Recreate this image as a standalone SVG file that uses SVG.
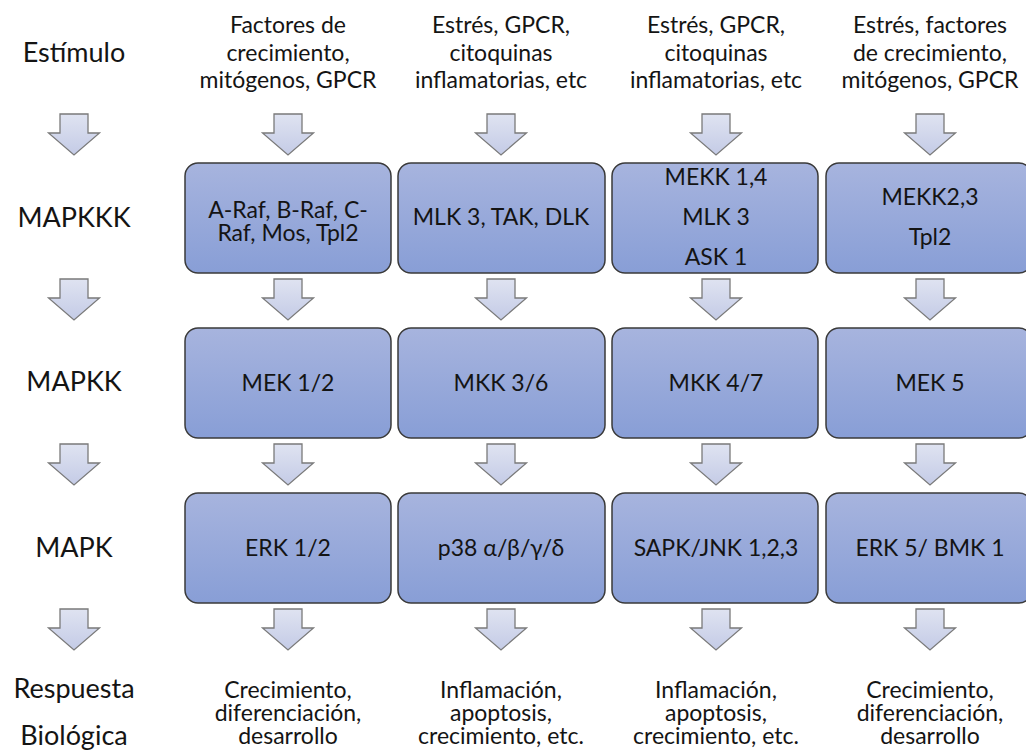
<svg xmlns="http://www.w3.org/2000/svg" width="1026" height="751" viewBox="0 0 1026 751">
<defs>
<linearGradient id="gb" x1="0" y1="0" x2="0" y2="1">
<stop offset="0" stop-color="#a7b4de"/>
<stop offset="1" stop-color="#889ed6"/>
</linearGradient>
<linearGradient id="ga" x1="0" y1="0" x2="0" y2="1">
<stop offset="0" stop-color="#dfe3f1"/>
<stop offset="1" stop-color="#c4cbe6"/>
</linearGradient>
<path id="arr" d="M-14,0 H14 V19 H25.5 L0,41 L-25.5,19 H-14 Z"/>
</defs>
<style>
.box{fill:url(#gb);stroke:#3a3a3a;stroke-width:1.5}
.ar{fill:url(#ga);stroke:#7a7a7a;stroke-width:1.3;stroke-linejoin:miter}
text{font-family:Lato,"Liberation Sans",sans-serif;fill:#141414;text-anchor:middle}
.lb{font-size:27px}
.tx{font-size:23px}
</style>
<rect width="1026" height="751" fill="#ffffff"/>

<g id="labels">
<text class="lb" x="74" y="62">Estímulo</text>
<text class="lb" x="74" y="227">MAPKKK</text>
<text class="lb" x="74" y="391">MAPKK</text>
<text class="lb" x="74" y="557">MAPK</text>
<text class="lb" x="74" y="698">Respuesta</text>
<text class="lb" x="74" y="745">Biológica</text>
</g>

<g id="stimuli">
<text class="tx" x="288" y="33">Factores de</text>
<text class="tx" x="288" y="61">crecimiento,</text>
<text class="tx" x="288" y="88">mitógenos, GPCR</text>
<text class="tx" x="501" y="33">Estrés, GPCR,</text>
<text class="tx" x="501" y="61">citoquinas</text>
<text class="tx" x="501" y="88">inflamatorias, etc</text>
<text class="tx" x="716" y="33">Estrés, GPCR,</text>
<text class="tx" x="716" y="61">citoquinas</text>
<text class="tx" x="716" y="88">inflamatorias, etc</text>
<text class="tx" x="930" y="33">Estrés, factores</text>
<text class="tx" x="930" y="61">de crecimiento,</text>
<text class="tx" x="930" y="88">mitógenos, GPCR</text>
</g>

<g id="connectors">
<use href="#arr" class="ar" x="74" y="114"/>
<use href="#arr" class="ar" x="288" y="114"/>
<use href="#arr" class="ar" x="501" y="114"/>
<use href="#arr" class="ar" x="716" y="114"/>
<use href="#arr" class="ar" x="930" y="114"/>
<use href="#arr" class="ar" x="74" y="279"/>
<use href="#arr" class="ar" x="288" y="279"/>
<use href="#arr" class="ar" x="501" y="279"/>
<use href="#arr" class="ar" x="716" y="279"/>
<use href="#arr" class="ar" x="930" y="279"/>
<use href="#arr" class="ar" x="74" y="444"/>
<use href="#arr" class="ar" x="288" y="444"/>
<use href="#arr" class="ar" x="501" y="444"/>
<use href="#arr" class="ar" x="716" y="444"/>
<use href="#arr" class="ar" x="930" y="444"/>
<use href="#arr" class="ar" x="74" y="609"/>
<use href="#arr" class="ar" x="288" y="609"/>
<use href="#arr" class="ar" x="501" y="609"/>
<use href="#arr" class="ar" x="716" y="609"/>
<use href="#arr" class="ar" x="930" y="609"/>
</g>

<g id="raf">
<rect class="box" x="185" y="163" width="206" height="110" rx="13"/>
<text class="tx" x="288" y="218">A-Raf, B-Raf, C-</text>
<text class="tx" x="288" y="241">Raf, Mos, Tpl2</text>
</g>
<g id="mlk">
<rect class="box" x="398" y="163" width="207" height="110" rx="13"/>
<text class="tx" x="501" y="225">MLK 3, TAK, DLK</text>
</g>
<g id="mekk14">
<rect class="box" x="612" y="163" width="206" height="110" rx="13"/>
<text class="tx" x="716" y="185">MEKK 1,4</text>
<text class="tx" x="716" y="225">MLK 3</text>
<text class="tx" x="716" y="265">ASK 1</text>
</g>
<g id="mekk23">
<rect class="box" x="826" y="163" width="206" height="110" rx="13"/>
<text class="tx" x="930" y="205">MEKK2,3</text>
<text class="tx" x="930" y="245">Tpl2</text>
</g>

<g id="mek12">
<rect class="box" x="185" y="328" width="206" height="110" rx="13"/>
<text class="tx" x="288" y="391">MEK 1/2</text>
</g>
<g id="mkk36">
<rect class="box" x="398" y="328" width="207" height="110" rx="13"/>
<text class="tx" x="501" y="391">MKK 3/6</text>
</g>
<g id="mkk47">
<rect class="box" x="612" y="328" width="206" height="110" rx="13"/>
<text class="tx" x="716" y="391">MKK 4/7</text>
</g>
<g id="mek5">
<rect class="box" x="826" y="328" width="206" height="110" rx="13"/>
<text class="tx" x="930" y="391">MEK 5</text>
</g>

<g id="erk12">
<rect class="box" x="185" y="493" width="206" height="110" rx="13"/>
<text class="tx" x="288" y="556">ERK 1/2</text>
</g>
<g id="p38">
<rect class="box" x="398" y="493" width="207" height="110" rx="13"/>
<text class="tx" x="501" y="556">p38 α/β/γ/δ</text>
</g>
<g id="jnk">
<rect class="box" x="612" y="493" width="206" height="110" rx="13"/>
<text class="tx" x="716" y="556">SAPK/JNK 1,2,3</text>
</g>
<g id="erk5">
<rect class="box" x="826" y="493" width="206" height="110" rx="13"/>
<text class="tx" x="930" y="556">ERK 5/ BMK 1</text>
</g>

<g id="responses">
<text class="tx" x="288" y="698">Crecimiento,</text>
<text class="tx" x="288" y="721">diferenciación,</text>
<text class="tx" x="288" y="744">desarrollo</text>
<text class="tx" x="501" y="698">Inflamación,</text>
<text class="tx" x="501" y="721">apoptosis,</text>
<text class="tx" x="501" y="744">crecimiento, etc.</text>
<text class="tx" x="716" y="698">Inflamación,</text>
<text class="tx" x="716" y="721">apoptosis,</text>
<text class="tx" x="716" y="744">crecimiento, etc.</text>
<text class="tx" x="930" y="698">Crecimiento,</text>
<text class="tx" x="930" y="721">diferenciación,</text>
<text class="tx" x="930" y="744">desarrollo</text>
</g>
</svg>
